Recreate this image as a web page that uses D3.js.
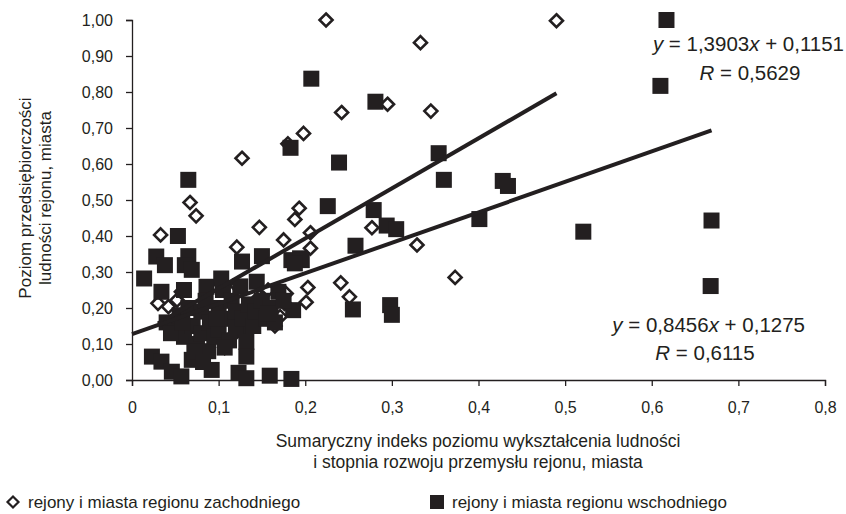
<!DOCTYPE html>
<html>
<head>
<meta charset="utf-8">
<script src="https://cdn.jsdelivr.net/npm/d3@7/dist/d3.min.js"></script>
<style>
  body { margin: 0; background: #fff; }
  svg text { font-family: Arial, "Liberation Sans", sans-serif; fill: #231f20; }
</style>
</head>
<body>
<div id="chart"></div>
<script>
// west region (open diamonds)
var westPoints = [
  [0.224,1.00],[0.490,0.998],[0.333,0.937],[0.295,0.766],[0.242,0.743],[0.345,0.747],
  [0.198,0.685],[0.180,0.656],[0.127,0.616],[0.067,0.493],[0.074,0.456],[0.033,0.403],
  [0.193,0.477],[0.188,0.446],[0.277,0.423],[0.147,0.424],[0.206,0.409],[0.175,0.389],
  [0.206,0.366],[0.121,0.369],[0.329,0.375],[0.373,0.285],[0.241,0.270],[0.251,0.231],
  [0.203,0.257],[0.201,0.216],[0.030,0.213],[0.042,0.204],[0.052,0.222],[0.057,0.245],
  [0.121,0.262],[0.147,0.231],[0.157,0.250],[0.178,0.240],[0.176,0.213],[0.171,0.176],
  [0.165,0.150],[0.151,0.190],[0.107,0.090],[0.115,0.120]
];
// east region (filled squares)
var eastPoints = [
  [0.617,1.00],[0.610,0.817],[0.669,0.443],[0.668,0.261],[0.521,0.412],[0.401,0.447],
  [0.428,0.553],[0.434,0.539],[0.360,0.556],[0.354,0.630],[0.281,0.773],[0.207,0.837],
  [0.183,0.645],[0.239,0.604],[0.065,0.556],[0.226,0.483],[0.279,0.472],[0.294,0.429],
  [0.305,0.419],[0.258,0.373],[0.196,0.333],[0.255,0.196],[0.298,0.208],[0.300,0.181],
  [0.053,0.400],[0.028,0.343],[0.065,0.344],[0.038,0.319],[0.061,0.319],[0.150,0.344],
  [0.127,0.329],[0.184,0.333],[0.194,0.338],[0.014,0.282],[0.034,0.245],[0.086,0.259],
  [0.103,0.282],[0.069,0.306],[0.188,0.324],[0.144,0.273],[0.169,0.245],[0.186,0.194],
  [0.130,0.139],[0.132,0.106],[0.132,0.065],[0.023,0.065],[0.034,0.051],[0.046,0.023],
  [0.057,0.010],[0.092,0.028],[0.123,0.020],[0.132,0.005],[0.159,0.012],[0.184,0.003],
  [0.069,0.056],
  [0.040,0.160],[0.050,0.140],[0.055,0.180],[0.060,0.120],[0.065,0.200],[0.070,0.150],
  [0.075,0.100],[0.080,0.190],[0.080,0.130],[0.085,0.220],[0.088,0.080],[0.090,0.160],
  [0.095,0.120],[0.100,0.200],[0.100,0.140],[0.105,0.250],[0.110,0.170],[0.112,0.110],
  [0.115,0.220],[0.120,0.150],[0.120,0.190],[0.125,0.260],[0.128,0.170],[0.135,0.210],
  [0.140,0.150],[0.142,0.190],[0.150,0.220],[0.155,0.170],[0.160,0.200],[0.165,0.160],
  [0.060,0.250],[0.045,0.130],[0.072,0.080],[0.082,0.050],[0.097,0.170],[0.107,0.090],
  [0.058,0.160],[0.175,0.220],[0.157,0.186]
];
// regression lines: slope, intercept, x range
var westFit = { a: 1.3903, b: 0.1151, x0: 0.03, x1: 0.49 };
var eastFit = { a: 0.8456, b: 0.1275, x0: 0.0, x1: 0.669 };
var xTicks = [0, 0.1, 0.2, 0.3, 0.4, 0.5, 0.6, 0.7, 0.8];
var yTicks = [0, 0.1, 0.2, 0.3, 0.4, 0.5, 0.6, 0.7, 0.8, 0.9, 1.0];

var ink = '#231f20';
var width = 846, height = 514;
var svg = d3.select('#chart').append('svg')
  .attr('width', width)
  .attr('height', height);

var xScale = d3.scaleLinear().domain([0, 0.8]).range([132, 825]);
var yScale = d3.scaleLinear().domain([0, 1]).range([380, 20]);

var comma = function(f) { return function(d) { return f(d).replace('.', ','); }; };

var xAxis = d3.axisBottom(xScale).tickValues(xTicks).tickSize(6).tickPadding(16)
  .tickFormat(function(d) { return d === 0 ? '0' : comma(d3.format('.1f'))(d); });
var yAxis = d3.axisLeft(yScale).tickValues(yTicks).tickSize(6).tickPadding(13)
  .tickFormat(comma(d3.format('.2f')));

var gx = svg.append('g').attr('transform', 'translate(0,380)').call(xAxis);
var gy = svg.append('g').attr('transform', 'translate(132,0)').call(yAxis);
[gx, gy].forEach(function(g) {
  g.select('.domain').attr('stroke', ink).attr('stroke-width', 1.3);
  g.selectAll('.tick line').attr('stroke', ink).attr('stroke-width', 1.3);
  g.selectAll('.tick text').style('font-size', '16px').attr('fill', ink);
});

// markers
svg.append('g').selectAll('path')
  .data(westPoints)
  .enter().append('path')
    .attr('d', 'M0,-6.5 L6.5,0 L0,6.5 L-6.5,0 Z')
    .attr('transform', function(d) { return 'translate(' + xScale(d[0]) + ',' + yScale(d[1]) + ')'; })
    .attr('fill', '#fff')
    .attr('stroke', ink)
    .attr('stroke-width', 2.6);

svg.append('g').selectAll('rect')
  .data(eastPoints)
  .enter().append('rect')
    .attr('x', function(d) { return xScale(d[0]) - 8; })
    .attr('y', function(d) { return yScale(d[1]) - 8; })
    .attr('width', 16)
    .attr('height', 16)
    .attr('fill', ink);

// trend lines
[westFit, eastFit].forEach(function(f) {
  svg.append('line')
    .attr('x1', xScale(f.x0)).attr('y1', yScale(f.a * f.x0 + f.b))
    .attr('x2', xScale(f.x1)).attr('y2', yScale(f.a * f.x1 + f.b))
    .attr('stroke', ink)
    .attr('stroke-width', 4);
});

// equations
function equation(x, y, anchor, parts) {
  var t = svg.append('text').attr('x', x).attr('y', y)
    .attr('text-anchor', anchor).style('font-size', '20.5px');
  parts.forEach(function(p) {
    t.append('tspan').style('font-style', p[1] ? 'italic' : 'normal').text(p[0]);
  });
}
equation(844, 51, 'end', [['y', 1], [' = 1,3903', 0], ['x', 1], [' + 0,1151', 0]]);
equation(750, 80, 'middle', [['R', 1], [' = 0,5629', 0]]);
equation(805, 332, 'end', [['y', 1], [' = 0,8456', 0], ['x', 1], [' + 0,1275', 0]]);
equation(705, 360, 'middle', [['R', 1], [' = 0,6115', 0]]);

// axis titles
svg.append('text').attr('x', 478).attr('y', 447).attr('text-anchor', 'middle')
  .style('font-size', '17.5px').text('Sumaryczny indeks poziomu wykształcenia ludności');
svg.append('text').attr('x', 478).attr('y', 468).attr('text-anchor', 'middle')
  .style('font-size', '17.5px').text('i stopnia rozwoju przemysłu rejonu, miasta');

var yt = svg.append('g').attr('transform', 'translate(0,198) rotate(-90)');
yt.append('text').attr('x', 0).attr('y', 31).attr('text-anchor', 'middle')
  .style('font-size', '17px').text('Poziom przedsiębiorczości');
yt.append('text').attr('x', 0).attr('y', 51).attr('text-anchor', 'middle')
  .style('font-size', '17px').text('ludności rejonu, miasta');

// legend
var lg = svg.append('g').attr('transform', 'translate(0,502)');
lg.append('path').attr('d', 'M0,-5.5 L5.5,0 L0,5.5 L-5.5,0 Z')
  .attr('transform', 'translate(13,0)')
  .attr('fill', '#fff').attr('stroke', ink).attr('stroke-width', 2.2);
lg.append('text').attr('x', 28).attr('y', 6).style('font-size', '17px')
  .text('rejony i miasta regionu zachodniego');
lg.append('rect').attr('x', 430).attr('y', -7).attr('width', 14).attr('height', 14).attr('fill', ink);
lg.append('text').attr('x', 452).attr('y', 6).style('font-size', '17px')
  .text('rejony i miasta regionu wschodniego');
</script>
</body>
</html>
